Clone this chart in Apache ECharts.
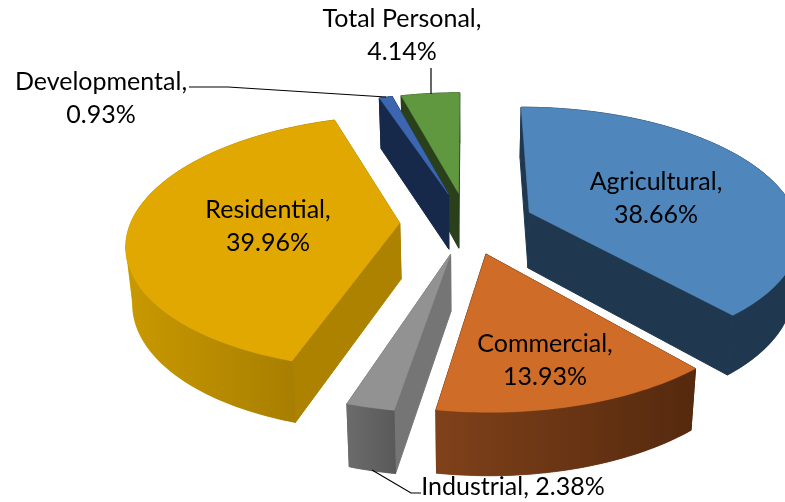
<!DOCTYPE html>
<html>
<head>
<meta charset="utf-8">
<style>html,body{margin:0;padding:0;background:#fff;overflow:hidden}#c{width:785px;height:502px}</style>
<script src="https://cdn.jsdelivr.net/npm/echarts@6/dist/echarts.min.js"></script>
</head>
<body>
<div id="c"></div>
<script>
const categories = ['Agricultural','Commercial','Industrial','Residential','Developmental','Total Personal'];
const shares = [38.66,13.93,2.38,39.96,0.93,4.14];

// View of the tilted disc
const view = {cx:467, cy:223, rx:269, ry:124, persp:0.151, explode:0.25, depth:56, floorShrink:0.98};
const topColors  = ['#4F87BC','#CF6C27','#929292','#E0A800','#3C67B0','#5F983F'];
const cutColors  = ['#1F3850','#55290E','#757575','#AD8200','#16294A','#2A401B'];
const rimColors  = [['#1F3850','#1F3850'],['#7F411A','#55290E'],['#6B6B6B','#5A5A5A'],['#C99900','#A07800'],['#16294A','#16294A'],['#2A401B','#2A401B']];
const labelPos = [[656,198],[545,360],[513,487],[268,226],[101,98],[402,35]];
const leaderLines = [null,null,[[372,470],[411,493],[421,493]],null,[[189,87],[228,87],[386,97]],[[431,68],[431,94]]];

const total = shares.reduce((a,b)=>a+b,0);
const project = (u,v,down) => {
  const s = 1/(1-view.persp*v);
  const k = down ? view.floorShrink : 1;
  return [view.cx + view.rx*u*s*k, view.cy + view.ry*v*s + (down ? view.depth*Math.pow(s,0.6) : 0)];
};
function renderSlice(params, api){
  const i = params.dataIndex;
  const value = api.value(0);
  const before = shares.slice(0,i).reduce((a,b)=>a+b,0);
  const a0 = before/total*2*Math.PI, a1 = (before+value)/total*2*Math.PI, mid=(a0+a1)/2;
  const ou = view.explode*Math.sin(mid), ov = -view.explode*Math.cos(mid);
  const steps = Math.max(4, Math.ceil((a1-a0)/0.02));
  const arc = [];
  for(let k=0;k<=steps;k++){const a=a0+(a1-a0)*k/steps; arc.push([ou+Math.sin(a), ov-Math.cos(a)]);}
  const arcTop = arc.map(p=>project(p[0],p[1],false));
  const arcLow = arc.map(p=>project(p[0],p[1],true));
  const apexTop = project(ou,ov,false), apexLow = project(ou,ov,true);
  const base = Math.round((ov+1)*1000)*10;
  const poly = (points, fill, z, w) => ({type:'polygon', z2:base+z, shape:{points}, style:{fill, stroke:fill, lineWidth:w||0.5}});
  const children = [
    poly([apexTop,arcTop[0],arcLow[0],apexLow], cutColors[i], 0, 1),
    poly([apexTop,arcTop[steps],arcLow[steps],apexLow], cutColors[i], 1, 1)
  ];
  // Outer wall: a full band, plus bands split at the disc's left/right extremes so the
  // silhouette runs straight down from the top edge. One gradient in canvas coordinates.
  const xs = arcTop.map(p=>p[0]);
  const xMin = Math.min(...xs), xMax = Math.max(...xs);
  const rimFill = new echarts.graphic.LinearGradient(xMin,0,xMax,0,
    [{offset:0,color:rimColors[i][0]},{offset:1,color:rimColors[i][1]}], true);
  children.push(poly(arcTop.concat(arcLow.slice().reverse()), rimFill, 2));
  const cuts = Array.from(new Set([0, xs.indexOf(xMin), xs.indexOf(xMax), steps])).sort((a,b)=>a-b);
  for(let c=0;c<cuts.length-1;c++){
    const from=cuts[c], to=cuts[c+1]+1;
    children.push(poly(arcTop.slice(from,to).concat(arcLow.slice(from,to).reverse()), rimFill, 3));
  }
  children.push(poly([apexTop].concat(arcTop), topColors[i], 4));
  if(leaderLines[i]) children.push({type:'polyline', z2:20000, shape:{points:leaderLines[i]}, style:{fill:null, stroke:'#000', lineWidth:1.2}});
  const oneLine = categories[i]==='Industrial';
  children.push({type:'text', z2:20001, x:labelPos[i][0], y:labelPos[i][1], style:{
    text: categories[i] + (oneLine ? ', ' : ',\n') + value.toFixed(2) + '%',
    x:0, y:0, align:'center', verticalAlign:'middle', fill:'#000', lineHeight:33,
    font:'25px Lato, Carlito, sans-serif'
  }});
  return {type:'group', children};
}
const chart = echarts.init(document.getElementById('c'), null, {renderer:'canvas'});
chart.setOption({
  animation:false,
  backgroundColor:'#fff',
  series:[{type:'custom', coordinateSystem:'none', silent:true, renderItem:renderSlice,
    data:shares.map((v,i)=>({name:categories[i], value:[v]}))}]
});
</script>
</body>
</html>
